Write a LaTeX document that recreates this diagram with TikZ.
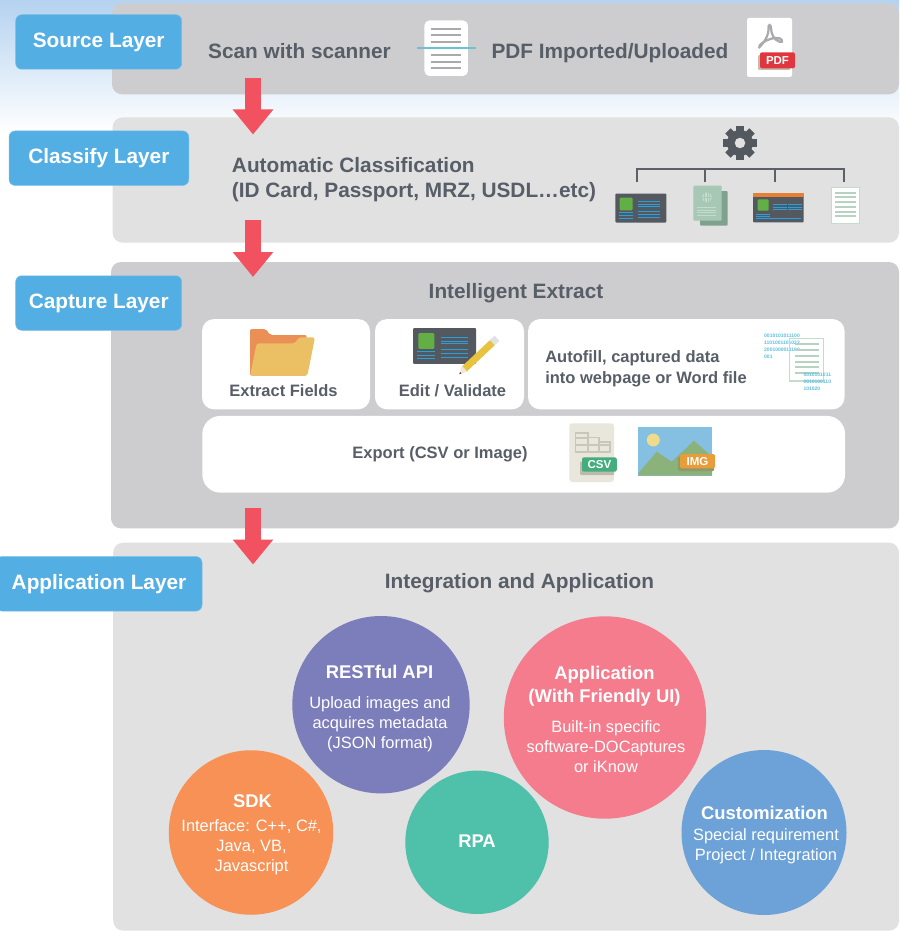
\documentclass[tikz,border=0pt]{standalone}
\usepackage{fontspec}
\setmainfont{Liberation Sans}
\usepackage{tikz}
\usetikzlibrary{%
  arrows.meta,%
  calc%
}
\definecolor{skyblue}{HTML}{B5D2F0}
\definecolor{paneldark}{HTML}{CDCDCF}
\definecolor{panellight}{HTML}{E1E1E1}
\definecolor{labelblue}{HTML}{53AEE3}
\definecolor{inkgray}{HTML}{585E68}
\definecolor{cardgray}{HTML}{54585F}
\definecolor{arrowred}{HTML}{F25260}
\definecolor{linegray}{HTML}{A9A9AE}
\definecolor{scanteal}{HTML}{6CC3CF}
\definecolor{cardgreen}{HTML}{62B045}
\definecolor{cardblue}{HTML}{2A9FDD}
\definecolor{paleleaf}{HTML}{B7D2C1}
\definecolor{bitblue}{HTML}{5CC0DE}
\definecolor{restfulblue}{HTML}{7C7DBB}
\definecolor{sdkorange}{HTML}{F79155}
\definecolor{rpagreen}{HTML}{4FC0AA}
\definecolor{apppink}{HTML}{F57C8C}
\definecolor{custblue}{HTML}{6CA2D7}
\tikzset{
  panel/.style={rectangle,rounded corners=10pt,inner sep=0pt},
  layerlabel/.style={rectangle,rounded corners=6pt,fill=labelblue,draw=labelblue!80!white,line width=0.5pt,inner sep=0pt,
    minimum height=54.5pt,text=white,font=\fontsize{20.8}{24}\selectfont\bfseries},
  headtext/.style={inner sep=0pt,text=inkgray,align=left,font=\fontsize{20.8}{25}\selectfont\bfseries},
  smalltext/.style={inner sep=0pt,text=inkgray,align=left,font=\fontsize{16.5}{21}\selectfont\bfseries},
  whitebox/.style={rectangle,rounded corners=12pt,fill=white,inner sep=0pt},
  flowarrow/.style={arrowred,line width=16pt,-{Triangle[length=25pt,width=39pt]}},
  treeline/.style={cardgray!95!white,line width=2pt},
  bubble/.style={circle,inner sep=0pt,text=white,align=center,font=\fontsize{16.4}{20}\selectfont},
  bubbletitle/.style={font=\fontsize{18.4}{23}\selectfont\bfseries},
  bits/.style={inner sep=0pt,anchor=west,text=bitblue,font=\fontsize{5}{6}\selectfont\bfseries},
  badgetext/.style={inner sep=0pt,text=white,font=\fontsize{11.5}{13}\selectfont\bfseries}
}
\newcommand{\idcard}[3]{%
\begin{scope}[shift={(#1,#2)},scale=#3]
\fill[cardgray,rounded corners=1pt] (0,0) rectangle (51,29);
\fill[cardgreen,rounded corners=1pt] (4.3,4.2) rectangle (17.2,16.8);
\draw[cardblue,line width=1pt] (3.5,18.8) -- (17.5,18.8) (3.5,21.8) -- (17.5,21.8) (3.5,24.8) -- (17.5,24.8);
\draw[cardblue,line width=1pt] (22.5,7.5) -- (44.5,7.5) (22.5,10.8) -- (44.5,10.8) (22.5,12.8) -- (44.5,12.8)
 (22.5,17.5) -- (44.5,17.5) (22.5,20.8) -- (44.5,20.8) (22.5,23.8) -- (44.5,23.8);
\end{scope}}
\begin{document}
\begin{tikzpicture}[x=1pt,y=-1pt]
\useasboundingbox (0,0) rectangle (899,931);
\fill[white] (0,0) rectangle (899,931);
\shade[top color=skyblue,bottom color=white] (0,0) rectangle (899,132);

% layers
\node (sourcepanel) [panel,fill=paneldark,minimum width=787pt,minimum height=91pt] at (505.5,48.8) {};
\node (classifypanel) [panel,fill=panellight,minimum width=786.4pt,minimum height=125.4pt] at (505.8,180) {};
\node (capturepanel) [panel,fill=paneldark,minimum width=788pt,minimum height=266.4pt] at (505,395.2) {};
\node (applicationpanel) [panel,fill=panellight,minimum width=785.8pt,minimum height=388pt] at (506.1,736.7) {};

\coordinate (flowa) at (253,78);
\coordinate (flowb) at (253,134.5);
\coordinate (flowc) at (253,220);
\coordinate (flowd) at (253,277);
\coordinate (flowe) at (253,508);
\coordinate (flowf) at (253,564.5);
\draw[flowarrow] (flowa) -- (flowb);
\draw[flowarrow] (flowc) -- (flowd);
\draw[flowarrow] (flowe) -- (flowf);

\node (sourcelabel) [layerlabel,minimum width=166pt] at (98.7,42) {Source Layer};
\node (classifylabel) [layerlabel,minimum width=179.7pt] at (98.9,158.2) {Classify Layer};
\node (capturelabel) [layerlabel,minimum width=166pt] at (98.7,303) {Capture Layer};
\node (applicationlabel) [layerlabel,minimum width=206pt] at (99,583.8) {Application Layer};

% source layer
\node (scantext) [headtext] at (299.5,51) {Scan with scanner};
\node (pdftext) [headtext] at (610,53) {PDF Imported/Uploaded};
\node (scandoc) [rectangle,rounded corners=5pt,fill=white,inner sep=0pt,minimum width=43.5pt,minimum height=55.5pt] at (446.2,48.2) {};
\draw[linegray,line width=1.6pt] (431,29) -- (461,29) (431,35) -- (461,35) (431,42) -- (461,42)
 (431,55) -- (461,55) (431,62) -- (461,62) (431,68) -- (461,68);
\draw[scanteal,line width=1.5pt] (417,48) -- (476,48);
\node (pdfdoc) [rectangle,rounded corners=2pt,fill=white,inner sep=0pt,minimum width=45pt,minimum height=59pt] at (769.5,47.5) {};
\draw[linegray,line width=2.2pt] (758.5,48) .. controls (763,44) and (769,36) .. (768.5,28)
 .. controls (768,24) and (771,24) .. (771,28) .. controls (771,34) and (774,40) .. (780,42)
 .. controls (784,43) and (782,37) .. (776,38) .. controls (770,38) and (762,42) .. (759,46);
\definecolor{pdfshadow}{HTML}{C5BDAB}
\definecolor{pdfred}{HTML}{E0363F}
\fill[pdfshadow,rounded corners=1pt] (758,55) rectangle (790,70);
\node (pdfbadge) [rectangle,rounded corners=2pt,fill=pdfred,inner sep=0pt,minimum width=35pt,minimum height=16pt,badgetext] at (777.5,60.3) {PDF};

% classify layer
\node (classifytext) [headtext] at (414,179.5) {Automatic Classification\\(ID Card, Passport, MRZ, USDL…etc)};
\node (gear) [circle,fill=cardgray,minimum size=26pt,inner sep=0pt] at (740,143) {};
\foreach \a in {0,45,...,315}
  \draw[cardgray,line width=7.5pt] ($(gear.center)+(\a:11)$) -- ($(gear.center)+(\a:17)$);
\node (gearhole) [circle,fill=panellight,minimum size=10.5pt,inner sep=0pt] at (gear.center) {};

\coordinate (busa) at (636.5,168.5);
\coordinate (busb) at (705,168.5);
\coordinate (busc) at (775,168.5);
\coordinate (busd) at (843.5,168.5);
\coordinate (dropa) at (636.5,182);
\coordinate (dropb) at (705,182);
\coordinate (dropc) at (775,182);
\coordinate (dropd) at (843.5,182);
\draw[treeline] (dropa) -- (busa) -- (busd) -- (dropd);
\draw[treeline] (busb) -- (dropb);
\draw[treeline] (busc) -- (dropc);

\idcard{615.3}{193.5}{1}

% passport
\definecolor{passback}{HTML}{80A18E}
\definecolor{passfront}{HTML}{A7C8B5}
\definecolor{passline}{HTML}{C5DBCD}
\fill[passback,rounded corners=1pt] (700,191) rectangle (727.7,225.7);
\fill[passfront,rounded corners=1pt] (693.3,185.7) rectangle (721.7,220.7);
\fill[passline] (707,197.3) circle (5pt);
\draw[passfront,line width=0.6pt] (702,197.3) -- (712,197.3) (707,192.3) -- (707,202.3) (704.5,192.5) -- (704.5,202) (709.5,192.5) -- (709.5,202);
\draw[passline,line width=0.8pt] (697,207.3) -- (716,207.3) (697,210) -- (716,210) (697,212.7) -- (716,212.7) (697,215.3) -- (716,215.3);

% header card
\definecolor{cardorange}{HTML}{E88033}
\fill[cardgray,rounded corners=1pt] (753,193) rectangle (803.7,222.3);
\fill[cardorange] (753,193) rectangle (803.7,197);
\fill[cardgreen,rounded corners=1pt] (757.7,199.3) rectangle (768.7,210.7);
\draw[cardblue,line width=1pt] (773,204.3) -- (787,204.3) (788,204.3) -- (802,204.3) (773,207.3) -- (787,207.3) (788,207.3) -- (802,207.3)
 (773,209.3) -- (787,209.3) (788,209.3) -- (802,209.3) (756,214.3) -- (770,214.3) (756,216.3) -- (770,216.3) (756,218.3) -- (801.3,218.3);

% paper
\filldraw[fill=white,draw=passline,line width=1pt] (831,187.3) rectangle (859.5,223.5);
\draw[paleleaf,line width=2pt] (835,192.7) -- (856.3,192.7) (835,196.7) -- (856.3,196.7) (835,201.7) -- (856.3,201.7)
 (835,206.7) -- (856.3,206.7) (835,211.7) -- (856.3,211.7) (835,215.7) -- (856.3,215.7);

% capture layer
\node (extracthead) [headtext] at (516,293) {Intelligent Extract};
\node (fieldsbox) [whitebox,minimum width=168pt,minimum height=90.3pt] at (286,364.2) {};
\node (editbox) [whitebox,minimum width=149pt,minimum height=90.3pt] at (449.5,364.2) {};
\node (autofillbox) [whitebox,minimum width=316.5pt,minimum height=90.3pt] at (686.3,364.2) {};
\node (exportbox) [whitebox,rounded corners=18pt,minimum width=642.7pt,minimum height=76.7pt] at (523.7,454.3) {};
\node (fieldstext) [smalltext] at (283.5,390.5) {Extract Fields};
\node (edittext) [smalltext] at (452.5,390.5) {Edit / Validate};
\node (autofilltext) [smalltext] at (646,368.5) {Autofill, captured data\\into webpage or Word file};
\node (exporttext) [smalltext] at (440,454) {Export (CSV or Image)};

% folder
\definecolor{folderback}{HTML}{EA8F55}
\definecolor{folderfront}{HTML}{EBC064}
\fill[folderback,rounded corners=2pt] (250,375.7) -- (250,329) -- (266,329) -- (270,335) -- (306.7,335) -- (306.7,375.7) -- cycle;
\fill[folderfront,rounded corners=2.5pt] (250,375.7) -- (256.7,343.3) -- (295,343.3) -- (299,337.3) -- (315,337.3) -- (307.3,375.7) -- cycle;

\idcard{413}{328}{1.24}
% pencil
\definecolor{pencilbody}{HTML}{E8C33F}
\definecolor{pencilend}{HTML}{DFE1E8}
\definecolor{penciltip}{HTML}{F3E7D3}
\fill[penciltip] (459.3,374.2) -- (461.8,366) -- (467.5,371.5) -- cycle;
\fill[black!70] (459.3,374.2) -- (460,372) -- (461.5,373.4) -- cycle;
\draw[pencilbody,line width=7pt] (464.7,368.7) -- (492.5,342.5);
\draw[pencilend,line width=7pt] (492.5,342.5) -- (497,338.3);

% autofill icon
\node (bita) [bits] at (764,336) {0010101011100};
\node (bitb) [bits] at (764,343) {1101001101022};
\node (bitc) [bits] at (764,349.5) {2001000011100};
\node (bitd) [bits] at (764,357) {001};
\draw[passline,line width=1.2pt] (789.7,338.3) rectangle (823.3,381);
\draw[paleleaf,line width=1.7pt] (795,344.3) -- (819,344.3) (795,349.7) -- (819,349.7) (795,355.7) -- (819,355.7)
 (795,361.7) -- (819,361.7) (795,367) -- (819,367) (795,372.7) -- (819,372.7);
\node (bite) [bits] at (803.3,375) {0010101011};
\node (bitf) [bits] at (803.3,382) {0010100110};
\node (bitg) [bits] at (803.3,389) {101020};

% csv icon
\definecolor{csvpaper}{HTML}{E9E6DC}
\definecolor{csvtable}{HTML}{C9C6BA}
\definecolor{csvshadow}{HTML}{BDB9AB}
\definecolor{csvgreen}{HTML}{44AD7E}
\fill[csvpaper,rounded corners=3pt] (569.3,423.3) rectangle (614,482);
\draw[csvtable,line width=1.6pt] (575.3,451.7) rectangle (588,432.7) (588,451.7) rectangle (598.7,437.3) (598.7,451.7) rectangle (610,441.7)
 (575.3,438) -- (588,438) (575.3,445) -- (610,445);
\fill[csvshadow,rounded corners=1pt] (580,461.7) rectangle (614,475);
\node (csvbadge) [rectangle,rounded corners=2pt,fill=csvgreen,inner sep=0pt,minimum width=34.7pt,minimum height=14.4pt,badgetext] at (599.4,464.5) {CSV};

% img icon
\definecolor{imgsky}{HTML}{85C0E3}
\definecolor{imgsun}{HTML}{EEDC8C}
\definecolor{imghill}{HTML}{8BB27A}
\definecolor{imgshadow}{HTML}{8E9A6B}
\definecolor{imgorange}{HTML}{E99C38}
\fill[imgsky] (638.3,427) rectangle (712,475.7);
\fill[imgsun] (653.3,440) circle (6.5pt);
\fill[imghill] (638.3,473.3) -- (656.7,451.7) -- (671.7,461.7) -- (694,440.7) -- (712,456.7) -- (712,475.7) -- (638.3,475.7) -- cycle;
\fill[imgshadow,rounded corners=1pt] (678,457) rectangle (714,471);
\node (imgbadge) [rectangle,rounded corners=2pt,fill=imgorange,inner sep=0pt,minimum width=35pt,minimum height=14.3pt,badgetext] at (697.5,461.2) {IMG};

% application layer
\node (integrationhead) [headtext] at (519.5,583.5) {Integration and Application};
\node (restful) [bubble,fill=restfulblue,minimum size=177.4pt] at (381,704.7) {};
\node (restfultitle) [bubble,bubbletitle] at (379.5,672) {RESTful API};
\node (restfultext) [bubble] at (380,724.5) {Upload images and\\acquires metadata\\(JSON format)};
\node (sdk) [bubble,fill=sdkorange,minimum size=164.5pt] at (251,832.5) {};
\node (sdktitle) [bubble,bubbletitle] at (252.5,801.5) {SDK};
\node (sdktext) [bubble] at (251.5,847) {Interface: C++, C\#,\\Java, VB,\\Javascript};
\node (rpa) [bubble,fill=rpagreen,minimum size=143.4pt] at (477,842.3) {};
\node (rpatitle) [bubble,bubbletitle] at (477,841) {RPA};
\node (application) [bubble,fill=apppink,minimum size=202.4pt] at (605,717.5) {};
\node (applicationtitle) [bubble,bubbletitle] at (604.5,686.5) {Application\\(With Friendly UI)};
\node (applicationtext) [bubble] at (606,747) {Built-in specific\\software-DOCaptures\\or iKnow};
\node (customization) [bubble,fill=custblue,minimum size=165pt] at (764,832.5) {};
\node (customizationtitle) [bubble,bubbletitle] at (764.5,813) {Customization};
\node (customizationtext) [bubble] at (766,846.5) {Special requirement\\Project / Integration};
\end{tikzpicture}
\end{document}
